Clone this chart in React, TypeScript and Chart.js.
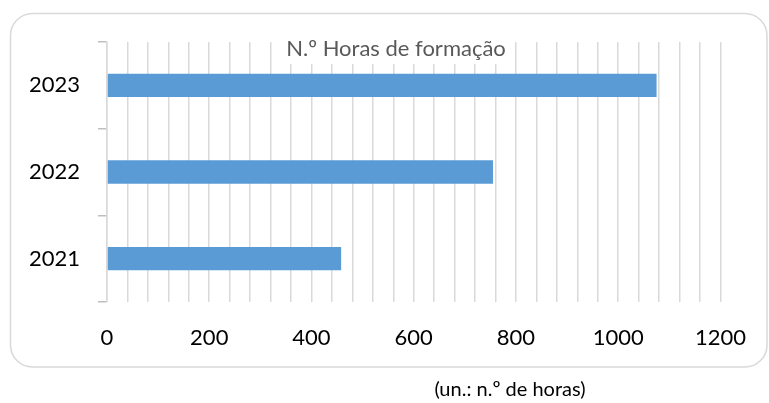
import React, { useEffect, useRef } from "react";
import { Chart, registerables } from "chart.js";

Chart.register(...registerables);

const years = ["2021", "2022", "2023"];
const hours = [458, 755, 1075];
const xTickLabels = [0, 200, 400, 600, 800, 1000, 1200];
const chartTitle = "N.º Horas de formação";
const unitNote = "(un.: n.º de horas)";

const FONT = "Lato, 'Open Sans', sans-serif";

const framePlugin = {
  id: "frame",
  beforeDraw(chart: any) {
    const ctx = chart.ctx;
    ctx.save();
    ctx.fillStyle = "#ffffff";
    ctx.fillRect(0, 0, chart.width, chart.height);
    const x = 10.5, y = 13.5, w = 767 - 10.5, h = 367 - 13.5, r = 22;
    ctx.beginPath();
    ctx.moveTo(x + r, y);
    ctx.lineTo(x + w - r, y);
    ctx.arcTo(x + w, y, x + w, y + r, r);
    ctx.lineTo(x + w, y + h - r);
    ctx.arcTo(x + w, y + h, x + w - r, y + h, r);
    ctx.lineTo(x + r, y + h);
    ctx.arcTo(x, y + h, x, y + h - r, r);
    ctx.lineTo(x, y + r);
    ctx.arcTo(x, y, x + r, y, r);
    ctx.closePath();
    ctx.strokeStyle = "#d9d9d9";
    ctx.lineWidth = 1.5;
    ctx.stroke();
    ctx.restore();
  },
  afterDraw(chart: any) {
    const ctx = chart.ctx;
    ctx.save();
    ctx.font = `22px ${FONT}`;
    const tw = ctx.measureText(chartTitle).width;
    const cx = 396;
    ctx.fillStyle = "#ffffff";
    ctx.fillRect(cx - tw / 2 - 4, 36, tw + 8, 28);
    ctx.fillStyle = "#595959";
    ctx.textAlign = "center";
    ctx.textBaseline = "alphabetic";
    ctx.fillText(chartTitle, cx, 56);
    ctx.font = `20px ${FONT}`;
    ctx.fillStyle = "#000000";
    ctx.fillText(unitNote, 510, 396);
    ctx.restore();
  },
};

export default function App() {
  const ref = useRef<HTMLCanvasElement | null>(null);
  useEffect(() => {
    if (!ref.current) return;
    const chart = new Chart(ref.current, {
      type: "bar",
      data: {
        labels: years,
        datasets: [
          {
            data: hours,
            backgroundColor: "#5B9BD5",
            borderWidth: 0,
            barPercentage: 0.27,
            categoryPercentage: 1,
          },
        ],
      },
      options: {
        indexAxis: "y",
        animation: false,
        responsive: false,
        layout: { padding: { left: 0, right: 45, top: 42, bottom: 0 } },
        plugins: {
          legend: { display: false },
          title: { display: false },
          tooltip: { enabled: false },
        },
        scales: {
          x: {
            min: 0,
            max: 1200,
            afterFit(axis: any) {
              axis.height = 101;
            },
            afterBuildTicks(axis: any) {
              const t: any[] = [];
              for (let v = 0; v <= 1200; v += 40) t.push({ value: v });
              axis.ticks = t;
            },
            ticks: {
              autoSkip: false,
              maxRotation: 0,
              padding: 23,
              color: "#000000",
              font: { family: FONT, size: 22 },
              callback: (v: any) => (xTickLabels.includes(Number(v)) ? String(v) : ""),
            },
            grid: { color: "#d9d9d9", lineWidth: 1.5, drawTicks: false },
            border: { display: false },
          },
          y: {
            reverse: true,
            afterFit(axis: any) {
              axis.width = 107;
            },
            ticks: {
              padding: 18,
              color: "#000000",
              font: { family: FONT, size: 22 },
            },
            grid: {
              offset: true,
              drawOnChartArea: false,
              drawTicks: true,
              tickLength: 9,
              color: "#bfbfbf",
              lineWidth: 1.5,
            },
            border: { display: true, color: "#d9d9d9", width: 1.5 },
          },
        },
      },
      plugins: [framePlugin],
    });
    return () => chart.destroy();
  }, []);
  return (
    <div style={{ position: "fixed", left: 0, top: 0, width: 769, height: 403 }}>
      <canvas ref={ref} width={769} height={403} style={{ width: 769, height: 403 }} />
    </div>
  );
}
